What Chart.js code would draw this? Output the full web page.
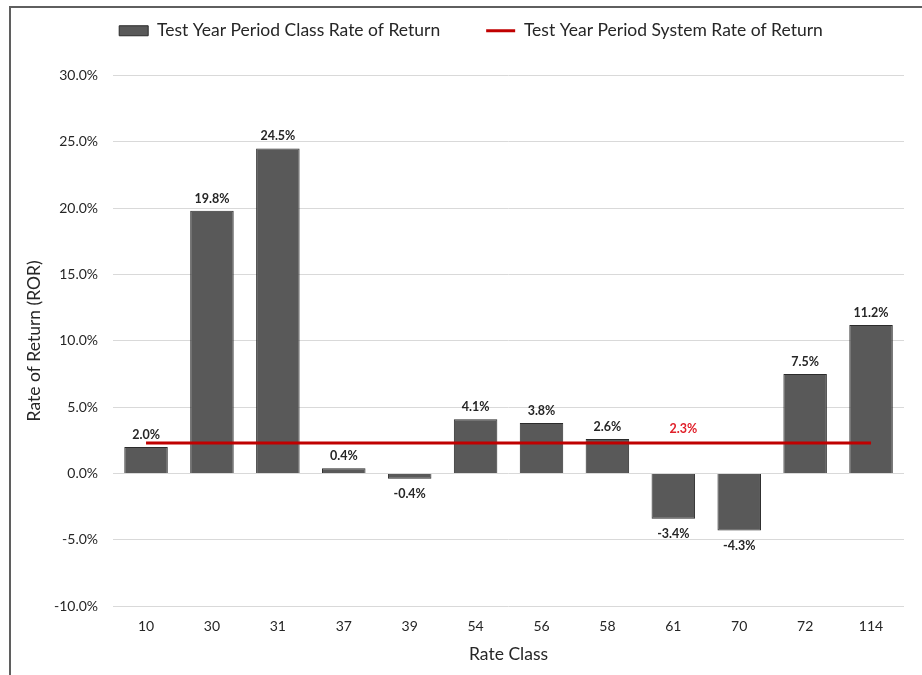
<!DOCTYPE html>
<html>
<head>
<meta charset="utf-8">
<script src="https://cdn.jsdelivr.net/npm/chart.js@4.4.1/dist/chart.umd.min.js"></script>
<style>
    html, body {
        margin: 0;
        padding: 0;
        background: #ffffff;
        overflow: hidden;
    }
    #frame {
        position: absolute;
        left: 9px;
        top: 6px;
        width: 1000px;
        height: 1000px;
        border-left: 2px solid #5f5f5f;
        border-top: 2px solid #5f5f5f;
    }
    #ror_chart_container {
        position: absolute;
        left: 0;
        top: 0;
        width: 922px;
        height: 675px;
    }
</style>
</head>
<body>
<div id="frame"></div>
<div id="ror_chart_container"><canvas id="ror_chart"></canvas></div>
<script>
// chart data
const rateClasses = ["10", "30", "31", "37", "39", "54", "56", "58", "61", "70", "72", "114"];
const classRor = [2.0, 19.8, 24.5, 0.4, -0.4, 4.1, 3.8, 2.6, -3.4, -4.3, 7.5, 11.2];
const systemRor = [2.3, 2.3, 2.3, 2.3, 2.3, 2.3, 2.3, 2.3, 2.3, 2.3, 2.3, 2.3];
const systemLabelIndex = 8; // where the 2.3% label sits
const yTicks = [-10, -5, 0, 5, 10, 15, 20, 25, 30];

const fontFamily = "Lato, 'Open Sans', sans-serif";

// draws value labels above / below the bars and the red system label
const valueLabels = {
    id: "valueLabels",
    afterDatasetsDraw(chart) {
        const ctx = chart.ctx;
        ctx.save();
        ctx.textAlign = "center";

        const bars = chart.getDatasetMeta(0).data;
        ctx.font = "bold 12.5px " + fontFamily;
        ctx.fillStyle = "#262626";
        bars.forEach((bar, i) => {
            const v = classRor[i];
            const txt = v.toFixed(1) + "%";
            if (v >= 0) {
                ctx.textBaseline = "bottom";
                ctx.fillText(txt, bar.x, bar.y - 6);
            } else {
                ctx.textBaseline = "top";
                ctx.fillText(txt, bar.x, bar.y + 9);
            }
        });

        const pt = chart.getDatasetMeta(1).data[systemLabelIndex];
        ctx.fillStyle = "#e0202a";
        ctx.textBaseline = "bottom";
        ctx.fillText(systemRor[systemLabelIndex].toFixed(1) + "%", pt.x + 10, pt.y - 8);
        ctx.restore();
    }
};

// make the legend box taller so the plot starts lower, and nudge it right
const legendSpace = {
    id: "legendSpace",
    beforeInit(chart) {
        const fit = chart.legend.fit;
        chart.legend.fit = function () {
            fit.bind(chart.legend)();
            this.height += 26;
        };
    },
    afterLayout(chart) {
        chart.legend.left += 10;
        chart.legend.right += 10;
    }
};

const config = {
    data: {
        labels: rateClasses,
        datasets: [{
            type: "bar",
            label: "Test Year Period Class Rate of Return",
            data: classRor,
            backgroundColor: "#595959",
            borderColor: "#2b2b2b",
            borderWidth: 1,
            barPercentage: 0.66,
            categoryPercentage: 1.0,
            pointStyle: "rect",
            order: 1,
        }, {
            type: "line",
            label: "Test Year Period System Rate of Return",
            data: systemRor,
            borderColor: "#c00000",
            backgroundColor: "#c00000",
            borderWidth: 3,
            pointRadius: 0,
            pointStyle: "line",
            order: 0,
        }],
    },
    options: {
        responsive: true,
        maintainAspectRatio: false,
        animation: false,
        layout: {
            padding: { left: 18, right: 18, top: -24, bottom: 10.5 },
        },
        plugins: {
            legend: {
                display: true,
                position: "top",
                labels: {
                    usePointStyle: true,
                    pointStyleWidth: 29,
                    boxWidth: 29,
                    boxHeight: 10,
                    color: "#262626",
                    padding: 46,
                    font: { family: fontFamily, size: 17.5 },
                    sort: (a, b) => a.datasetIndex - b.datasetIndex,
                },
            },
            tooltip: { enabled: false },
        },
        scales: {
            x: {
                grid: { display: false, drawTicks: false },
                border: { display: false },
                ticks: {
                    color: "#262626",
                    padding: 12,
                    font: { family: fontFamily, size: 14 },
                },
                title: {
                    display: true,
                    text: "Rate Class",
                    color: "#262626",
                    padding: { top: -3.5, bottom: 0 },
                    font: { family: fontFamily, size: 17.5 },
                },
            },
            y: {
                min: -10,
                max: 30,
                afterBuildTicks: (axis) => {
                    axis.ticks = yTicks.map(v => ({ value: v }));
                },
                grid: { color: "#d9d9d9", drawTicks: false },
                border: { display: false },
                ticks: {
                    color: "#262626",
                    padding: 15,
                    font: { family: fontFamily, size: 14 },
                    callback: (v) => v.toFixed(1) + "%",
                },
                title: {
                    display: true,
                    text: "Rate of Return (ROR)",
                    color: "#262626",
                    padding: { top: 6, bottom: -6 },
                    font: { family: fontFamily, size: 17.5 },
                },
            },
        },
    },
    plugins: [valueLabels, legendSpace],
};

const ctx = document.getElementById("ror_chart");
window.ror_chart = new Chart(ctx, config);
</script>
</body>
</html>
